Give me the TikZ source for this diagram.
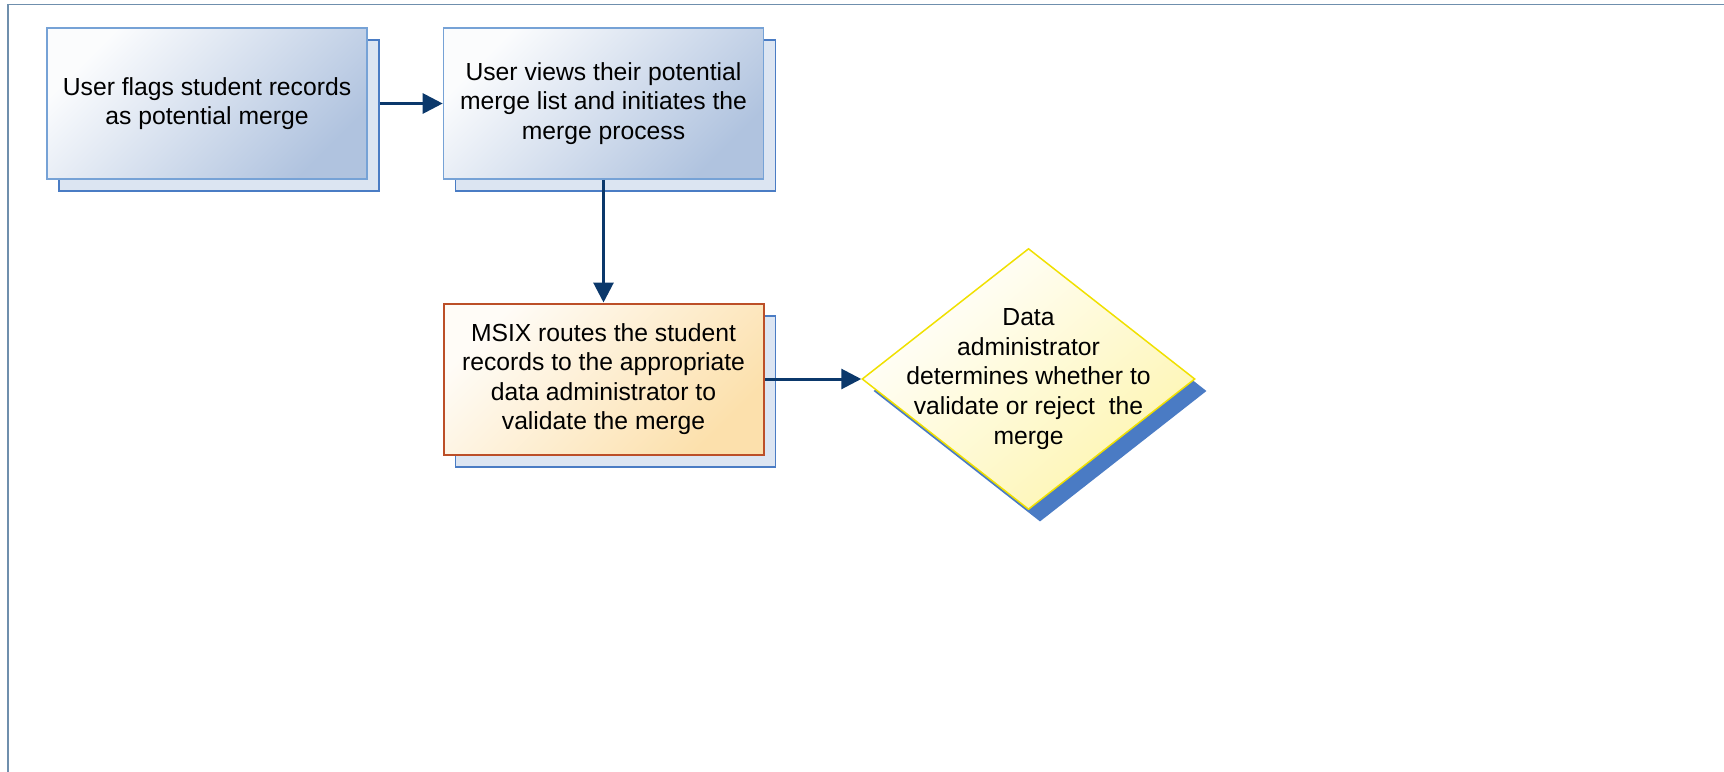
\documentclass[tikz,border=0pt]{standalone}
\usepackage{fontspec}
\setmainfont{Liberation Sans}
\usetikzlibrary{arrows.meta,shapes.geometric}
\definecolor{framec}{HTML}{6F8FAD}
\definecolor{boxblue}{HTML}{B0C3DF}
\definecolor{boxline}{HTML}{76A2D6}
\definecolor{shadfill}{HTML}{DCE5F2}
\definecolor{shadline}{HTML}{4A7CC4}
\definecolor{orfill}{HTML}{FCE0AC}
\definecolor{orline}{HTML}{BC4F28}
\definecolor{yfill}{HTML}{FEF5B0}
\definecolor{yline}{HTML}{F0E000}
\definecolor{arrowc}{HTML}{0B386B}
\definecolor{dshadow}{HTML}{4A7BC4}
\begin{document}
\begin{tikzpicture}[x=1pt,y=-1pt,
  boxbase/.style={minimum width=320pt, minimum height=151pt, inner sep=0pt, align=center,
    font=\fontsize{24.7}{29.5}\selectfont},
  bluebox/.style={boxbase, draw=boxline, line width=1.6pt, top color=boxblue!5!white, middle color=boxblue!88!white, bottom color=boxblue, shading angle=45},
  orbox/.style={boxbase, draw=orline, line width=2pt, top color=orfill!10!white, middle color=orfill!88!white, bottom color=orfill, shading angle=45},
  shadbox/.style={minimum width=320pt, minimum height=151pt, inner sep=0pt, draw=shadline, fill=shadfill, line width=1.6pt},
  dia/.style={diamond, minimum width=333pt, minimum height=261pt, inner sep=0pt, draw=yline, line width=1.5pt, top color=white, middle color=yfill!75!white, bottom color=yfill, shading angle=40},
  diashad/.style={diamond, minimum width=333pt, minimum height=261pt, inner sep=0pt, fill=dshadow},
  txt/.style={align=center, inner sep=0pt, font=\fontsize{24.7}{29.8}\selectfont},
  conn/.style={draw=arrowc, line width=3pt, -{Triangle[length=20pt,width=20pt]}}
]
\useasboundingbox (0,0) rectangle (1724,771);
% frame
\draw[framec, line width=1.8pt] (8,780) -- (8,4.5) -- (1730,4.5);
% box 1
\node[shadbox] (s1) at (219,115.5) {};
\node[bluebox] (f1) at (207,103.5) {User flags student records\\as potential merge};
% box 2
\node[shadbox] (s2) at (615.5,115.5) {};
\node[bluebox] (f2) at (603.5,103.5) {User views their potential\\merge list and initiates the\\merge process};
% box 3
\node[shadbox] (s3) at (615.5,391.5) {};
\node[orbox] (f3) at (603.5,379) {MSIX routes the student\\records to the appropriate\\data administrator to\\validate the merge};
% diamond
\node[diashad] (ds) at (1040,391) {};
\node[dia] (d) at (1028.5,379) {};
\node[txt] (dt) at (d.center) {Data\\administrator\\determines whether to\\validate or reject\ \ the\\merge};
% connectors
\draw[conn] (f1.east -| s1.east) -- (f2.west);
\draw[conn] (f2.south) -- (f3.north);
\draw[conn] (f3.east) -- (d.west);
\end{tikzpicture}
\end{document}
